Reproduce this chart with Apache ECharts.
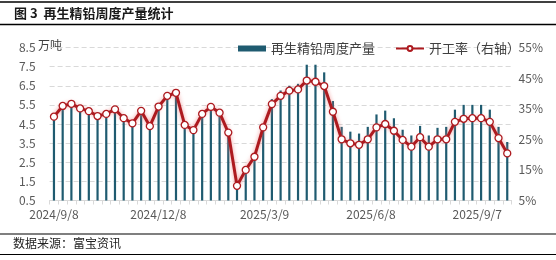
<!DOCTYPE html>
<html><head><meta charset="utf-8">
<script src="https://cdn.jsdelivr.net/npm/echarts@6/dist/echarts.min.js"></script>
<style>html,body{margin:0;padding:0;background:#fff;}#c{width:556px;height:260px;}</style>
</head><body><div id="c"></div>
<script>
const categories = ['2024/9/8','2024/9/15','2024/9/22','2024/9/29','2024/10/6','2024/10/13','2024/10/20','2024/10/27','2024/11/3','2024/11/10','2024/11/17','2024/11/24','2024/12/1','2024/12/8','2024/12/15','2024/12/22','2024/12/29','2025/1/5','2025/1/12','2025/1/19','2025/1/26','2025/2/2','2025/2/9','2025/2/16','2025/2/23','2025/3/2','2025/3/9','2025/3/16','2025/3/23','2025/3/30','2025/4/6','2025/4/13','2025/4/20','2025/4/27','2025/5/4','2025/5/11','2025/5/18','2025/5/25','2025/6/1','2025/6/8','2025/6/15','2025/6/22','2025/6/29','2025/7/6','2025/7/13','2025/7/20','2025/7/27','2025/8/3','2025/8/10','2025/8/17','2025/8/24','2025/8/31','2025/9/7'];
const output = [4.86,5.42,5.54,5.30,5.16,4.90,5.00,5.25,4.78,4.52,5.18,4.38,5.39,5.94,6.11,4.43,4.17,5.00,5.37,5.07,4.03,1.27,2.09,2.78,4.31,5.80,6.25,6.50,6.60,7.60,7.60,7.20,5.70,4.35,4.10,4.00,4.35,5.00,5.20,4.80,4.20,3.90,4.40,3.90,4.30,4.35,5.25,5.50,5.50,5.50,5.25,4.35,3.56];
const rate = [32.4,35.9,36.6,35.1,34.2,32.6,33.3,34.8,31.9,30.2,34.3,29.3,35.7,39.2,40.2,29.7,28.0,33.3,35.6,33.7,27.2,9.8,15.0,19.3,28.9,36.5,39.2,40.9,41.3,44.2,43.8,42.4,34.0,25.0,23.7,23.2,25.0,28.9,30.0,27.8,24.8,22.6,25.7,22.6,25.0,25.0,30.7,31.7,31.9,31.9,30.7,25.4,20.4];
const leftTicks = [0.5,1.5,2.5,3.5,4.5,5.5,6.5,7.5,8.5];
const rightTicks = [5,15,25,35,45,55];
const seriesNames = ['再生精铅周度产量','开工率（右轴）'];

const chart = echarts.init(document.getElementById('c'), null, {renderer:'canvas'});
const font = "'Noto Sans CJK SC', sans-serif";
const labelShift = {13:'b',26:'c',39:'d',52:'e'};
chart.setOption({
  animation:false,
  backgroundColor:'#fff',
  textStyle:{fontFamily:font},
  graphic:[
    {type:'line',shape:{x1:0,y1:2,x2:556,y2:2},style:{stroke:'#000',lineWidth:1.5}},
    {type:'text',left:14,top:7,style:{text:'图 3  再生精铅周度产量统计',font:"bold 13px 'Noto Sans CJK SC'",fill:'#1a1a1a'}},
    {type:'line',shape:{x1:0,y1:24.5,x2:556,y2:24.5},style:{stroke:'#000',lineWidth:1.5}},
    {type:'text',left:38,top:39,style:{text:'万吨',font:"12px 'Noto Sans CJK SC'",fill:'#404040'}},
    {type:'line',shape:{x1:0,y1:234,x2:556,y2:234},style:{stroke:'#000',lineWidth:1.2}},
    {type:'text',left:13,top:237,style:{text:'数据来源：富宝资讯',font:"12px 'Noto Sans CJK SC'",fill:'#222'}},
    {type:'line',shape:{x1:0,y1:254.5,x2:556,y2:254.5},style:{stroke:'#000',lineWidth:1.2}}
  ],
  legend:{
    left:233, top:37, itemGap:20, itemWidth:28, itemHeight:6,
    textStyle:{fontSize:13,color:'#404040',fontFamily:font},
    data:[{name:seriesNames[0],icon:'rect'},{name:seriesNames[1]}]
  },
  grid:{left:49.6,top:47.5,width:462,height:153,containLabel:false},
  xAxis:{
    type:'category',data:categories,boundaryGap:true,
    axisLine:{lineStyle:{color:'#d9d9d9'}},
    axisTick:{show:true,interval:0,length:4,lineStyle:{color:'#d9d9d9'}},
    axisLabel:{
      interval:12,margin:8,color:'#595959',fontSize:12,fontFamily:font,
      formatter:function(v,i){const k=labelShift[i];return k?'{'+k+'|'+v+'}':v;},
      rich:{b:{padding:[0,18,0,0],fontSize:12,color:'#595959'},c:{padding:[0,32,0,0],fontSize:12,color:'#595959'},d:{padding:[0,46,0,0],fontSize:12,color:'#595959'},e:{padding:[0,60,0,0],fontSize:12,color:'#595959'}}
    }
  },
  yAxis:[
    {type:'value',min:leftTicks[0],max:leftTicks[leftTicks.length-1],interval:0.5,
     axisLine:{show:false},axisTick:{show:false},
     axisLabel:{margin:14,color:'#595959',fontSize:12,fontFamily:font,
       formatter:function(v){return leftTicks.some(t=>Math.abs(t-v)<1e-6)?v.toFixed(1):'';}},
     splitLine:{show:true,lineStyle:{color:['#d9d9d9','rgba(0,0,0,0)'],type:[5,3],width:1}}
    },
    {type:'value',min:rightTicks[0],max:rightTicks[rightTicks.length-1],interval:5,
     axisLine:{show:false},axisTick:{show:false},splitLine:{show:false},
     axisLabel:{margin:7,color:'#595959',fontSize:12,fontFamily:font,
       formatter:function(v){return rightTicks.some(t=>Math.abs(t-v)<1e-6)?Math.round(v)+'%':'';}}
    }
  ],
  series:[
    {name:seriesNames[0],type:'bar',data:output,yAxisIndex:0,barWidth:2.2,
     itemStyle:{color:'#1f5b70'}},
    {name:seriesNames[1],type:'line',data:rate,yAxisIndex:1,
     symbol:'circle',symbolSize:7,showSymbol:true,showAllSymbol:true,
     lineStyle:{color:'#ad1a1f',width:3,shadowColor:'rgba(235,120,120,0.75)',shadowBlur:4},
     itemStyle:{color:'#fff',borderColor:'#ad1a1f',borderWidth:1.3}}
  ]
});
</script></body></html>
